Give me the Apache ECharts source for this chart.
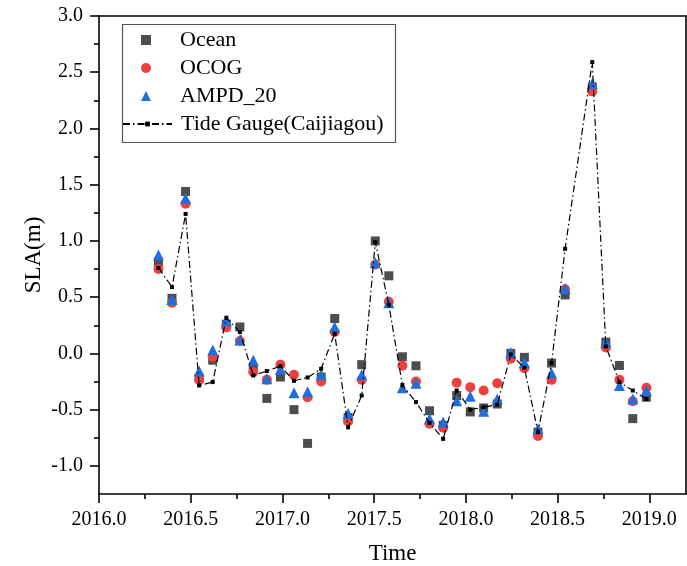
<!DOCTYPE html>
<html>
<head>
<meta charset="utf-8">
<script src="https://cdn.jsdelivr.net/npm/echarts@6/dist/echarts.min.js"></script>
<style>html,body{margin:0;padding:0;background:#fff}#c{width:687px;height:566px}</style>
</head>
<body>
<div id="c"></div>
<script>
const times = [2016.324, 2016.398, 2016.472, 2016.546, 2016.620, 2016.694, 2016.768, 2016.841, 2016.915, 2016.989,
  2017.063, 2017.137, 2017.211, 2017.285, 2017.358, 2017.432, 2017.506, 2017.580, 2017.654, 2017.728,
  2017.802, 2017.876, 2017.950, 2018.024, 2018.097, 2018.171, 2018.245, 2018.319, 2018.393, 2018.467,
  2018.541, 2018.689, 2018.763, 2018.837, 2018.910, 2018.984];
const ocean = [0.815, 0.49, 1.44, -0.22, -0.06, 0.26, 0.235, -0.137, -0.40, -0.21,
  -0.50, -0.80, -0.21, 0.31, -0.57, -0.10, 1.00, 0.69, -0.03, -0.11,
  -0.51, -0.64, -0.375, -0.52, -0.485, -0.45, 0.0, -0.035, -0.70, -0.086,
  0.52, 2.37, 0.10, -0.107, -0.58, -0.39];
const ocog = [0.75, 0.45, 1.33, -0.235, -0.03, 0.23, 0.11, -0.165, -0.235, -0.10,
  -0.19, -0.39, -0.25, 0.19, -0.605, -0.235, 0.79, 0.46, -0.11, -0.25,
  -0.625, -0.66, -0.26, -0.30, -0.33, -0.265, -0.047, -0.132, -0.735, -0.235,
  0.57, 2.33, 0.053, -0.235, -0.425, -0.305];
const ampd = [0.874, 0.48, 1.38, -0.157, 0.03, 0.29, 0.12, -0.06, -0.225, -0.14,
  -0.35, -0.34, -0.19, 0.235, -0.535, -0.19, 0.806, 0.45, -0.305, -0.265,
  -0.58, -0.61, -0.42, -0.38, -0.515, -0.405, 0.008, -0.08, -0.67, -0.175,
  0.578, 2.40, 0.10, -0.285, -0.405, -0.33];
const tide = [0.76, 0.59, 1.24, -0.285, -0.255, 0.317, 0.19, -0.196, -0.157, -0.113,
  -0.244, -0.214, -0.137, 0.175, -0.657, -0.374, 0.99, 0.433, -0.282, -0.433,
  -0.617, -0.76, -0.33, -0.50, -0.478, -0.455, -0.009, -0.128, -0.70, -0.086,
  0.93, 2.59, 0.062, -0.255, -0.33, -0.405];
const xMajor = [2016.0, 2016.5, 2017.0, 2017.5, 2018.0, 2018.5, 2019.0];
const xMinor = [2016.25, 2016.75, 2017.25, 2017.75, 2018.25, 2018.75];
const yMajor = [-1.0, -0.5, 0.0, 0.5, 1.0, 1.5, 2.0, 2.5, 3.0];
const yMinor = [-0.75, -0.25, 0.25, 0.75, 1.25, 1.75, 2.25, 2.75];
const names = ['Ocean', 'OCOG', 'AMPD_20', 'Tide Gauge(Caijiagou)'];

const pair = arr => times.map((t, i) => [t, arr[i]]);
const FONT = 'Liberation Serif';
const X_MIN = 2016.0, X_MAX = 2019.2, Y_MIN = -1.25, Y_MAX = 3.0;
const lineStyle = { color: '#000', width: 1.6 };

const chart = echarts.init(document.getElementById('c'), null, { renderer: 'canvas' });
chart.setOption({
  animation: false,
  backgroundColor: '#fff',
  grid: { left: 99, top: 16, right: 1, bottom: 72, containLabel: false, outerBoundsMode: 'none' },
  xAxis: [
    { type: 'value', position: 'bottom', min: X_MIN, max: X_MAX,
      name: 'Time', nameLocation: 'middle', nameGap: 48, nameMoveOverlap: false,
      nameTextStyle: { fontFamily: FONT, fontSize: 23, color: '#000' },
      axisLine: { onZero: false, lineStyle },
      axisTick: { customValues: xMajor, length: 9, lineStyle },
      axisLabel: { customValues: xMajor, margin: 16, fontFamily: FONT, fontSize: 20, color: '#000',
        formatter: v => v.toFixed(1) },
      splitLine: { show: false } },
    { type: 'value', position: 'bottom', min: X_MIN, max: X_MAX,
      axisLine: { show: false, onZero: false },
      axisTick: { customValues: xMinor, length: 5, lineStyle },
      axisLabel: { show: false }, splitLine: { show: false } },
    { type: 'value', position: 'top', min: X_MIN, max: X_MAX,
      axisLine: { onZero: false, lineStyle },
      axisTick: { show: false }, axisLabel: { show: false }, splitLine: { show: false } }
  ],
  yAxis: [
    { type: 'value', position: 'left', min: Y_MIN, max: Y_MAX,
      name: 'SLA(m)', nameLocation: 'middle', nameGap: 54, nameRotate: 90, nameMoveOverlap: false,
      nameTextStyle: { fontFamily: FONT, fontSize: 23, color: '#000' },
      axisLine: { onZero: false, lineStyle },
      axisTick: { customValues: yMajor, length: 9, lineStyle },
      axisLabel: { customValues: yMajor, margin: 16, fontFamily: FONT, fontSize: 20, color: '#000',
        formatter: v => v.toFixed(1) },
      splitLine: { show: false } },
    { type: 'value', position: 'left', min: Y_MIN, max: Y_MAX,
      axisLine: { show: false, onZero: false },
      axisTick: { customValues: yMinor, length: 5, lineStyle },
      axisLabel: { show: false }, splitLine: { show: false } },
    { type: 'value', position: 'right', min: Y_MIN, max: Y_MAX,
      axisLine: { onZero: false, lineStyle },
      axisTick: { show: false }, axisLabel: { show: false }, splitLine: { show: false } }
  ],
  legend: [
    { data: names.slice(0, 3), orient: 'vertical', left: 141, top: 26, padding: 0,
      itemWidth: 10, itemHeight: 10, itemGap: 0, selectedMode: false,
      textStyle: { fontFamily: FONT, fontSize: 22, color: '#000', lineHeight: 28, padding: [0, 0, 0, 24] } },
    { data: [names[3]], orient: 'vertical', left: 122, top: 110, padding: 0,
      itemWidth: 49, itemHeight: 6, itemGap: 0, selectedMode: false,
      textStyle: { fontFamily: FONT, fontSize: 22, color: '#000', lineHeight: 28, padding: [0, 0, 0, 4] } }
  ],
  graphic: [
    { type: 'rect', left: 120, top: 22, z: 100, silent: true,
      shape: { width: 273, height: 118 },
      style: { fill: null, stroke: '#555', lineWidth: 1.2 } }
  ],
  series: [
    { name: names[0], type: 'scatter', data: pair(ocean), symbol: 'rect', symbolSize: 9,
      itemStyle: { color: '#4d4d4d', opacity: 1 }, z: 2 },
    { name: names[1], type: 'scatter', data: pair(ocog), symbol: 'circle', symbolSize: 10,
      itemStyle: { color: '#ef3f3f', opacity: 1 }, z: 3 },
    { name: names[2], type: 'scatter', data: pair(ampd), symbol: 'triangle', symbolSize: 11,
      itemStyle: { color: '#1e6fdc', opacity: 1 }, z: 4 },
    { name: names[3], type: 'line', data: pair(tide), symbol: 'rect', symbolSize: 4, showSymbol: true,
      itemStyle: { color: '#000' }, lineStyle: { color: '#000', width: 1.2, type: [7, 3, 1.5, 3] }, z: 5 }
  ]
});
</script>
</body>
</html>
